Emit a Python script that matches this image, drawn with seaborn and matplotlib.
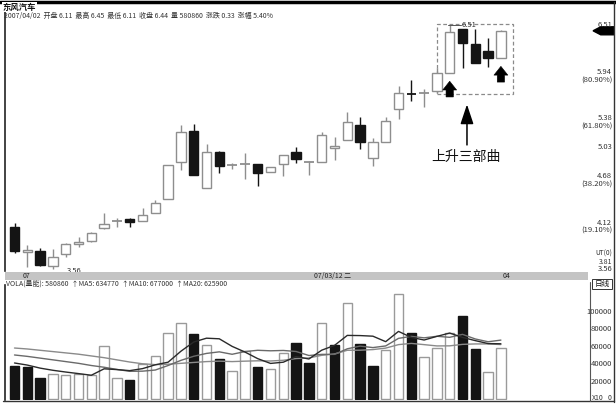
import numpy as np
import pandas as pd
import matplotlib
matplotlib.use("Agg")
import matplotlib.pyplot as plt
import seaborn as sns
from matplotlib.patches import Rectangle, Polygon, FancyArrowPatch
from matplotlib.lines import Line2D

# ---- daily bars (price) ----
opens = [4.07, 3.77, 3.78, 3.60, 3.74, 3.86, 3.90, 4.05, 4.13, 4.16,
         4.14, 4.24, 4.41, 4.85, 5.23, 4.54, 4.97, 4.81, 4.82, 4.83,
         4.73, 4.83, 4.97, 4.85, 4.85, 5.02, 5.12, 5.30, 4.90, 5.10,
         5.49, 5.68, 5.68, 5.71, 5.93, 6.46, 6.28, 6.20, 6.11]
highs = [4.12, 3.85, 3.81, 3.80, 3.87, 3.95, 4.01, 4.24, 4.18, 4.18,
         4.30, 4.39, 4.82, 5.30, 5.31, 5.07, 4.99, 4.84, 4.96, 4.83,
         4.79, 4.94, 5.03, 4.86, 5.22, 5.16, 5.46, 5.40, 5.14, 5.40,
         5.77, 5.84, 5.74, 5.99, 6.51, 6.46, 6.46, 6.35, 6.45]
lows = [3.75, 3.58, 3.60, 3.56, 3.71, 3.83, 3.89, 4.04, 4.07, 4.07,
        4.14, 4.24, 4.41, 4.76, 4.70, 4.54, 4.72, 4.77, 4.65, 4.56,
        4.73, 4.68, 4.84, 4.70, 4.85, 4.88, 5.12, 5.01, 4.81, 5.10,
        5.37, 5.59, 5.52, 5.69, 5.93, 5.99, 6.05, 6.00, 6.11]
closes = [3.78, 3.79, 3.61, 3.71, 3.86, 3.89, 4.00, 4.10, 4.14, 4.13,
          4.21, 4.36, 4.82, 5.22, 4.70, 4.97, 4.81, 4.82, 4.84, 4.72,
          4.79, 4.94, 4.89, 4.86, 5.18, 5.05, 5.34, 5.10, 5.10, 5.35,
          5.69, 5.67, 5.69, 5.93, 6.43, 6.29, 6.05, 6.11, 6.44]

# ---- volume (x10 shares) ----
volumes = [37900, 36800, 24000, 28700, 27600, 28700, 27600, 60900, 24000, 21800,
           40200, 49400, 75900, 87400, 74700, 62000, 46000, 32200, 55200, 36800,
           34500, 52900, 64400, 41400, 87400, 62000, 110300, 63200, 37900, 56300,
           120700, 75900, 48300, 58600, 75400, 95400, 57500, 31000, 58086]
vol_down = [1, 1, 1, 0, 0, 0, 0, 0, 0, 1,
            0, 0, 0, 0, 1, 0, 1, 0, 0, 1,
            0, 0, 1, 1, 0, 1, 0, 1, 1, 0,
            0, 1, 0, 0, 0, 1, 1, 0, 0]
ma5 = [41400, 39000, 35500, 33000, 31000, 29200, 27300, 34700, 33800, 32600,
       34900, 39300, 42300, 54900, 65500, 69900, 69200, 60500, 54000, 46400,
       40900, 42300, 48800, 46000, 56100, 61600, 73100, 72900, 72200, 65900,
       77700, 70800, 67800, 72000, 75800, 70800, 67100, 63700, 63477]
ma10 = [50600, 49000, 47000, 45000, 43000, 41000, 38500, 36500, 34000, 31800,
        32000, 33300, 38500, 44400, 49100, 52400, 54200, 51400, 54500, 56000,
        55400, 55800, 54600, 50000, 51300, 51300, 57700, 60800, 59100, 61000,
        69700, 72000, 70300, 72100, 70900, 74300, 69000, 65800, 67700]
ma20 = [58600, 57500, 56000, 54500, 53000, 51500, 49500, 47500, 45000, 42500,
        40500, 39500, 40000, 41000, 42000, 43000, 43500, 43000, 43500, 43900,
        43700, 44500, 46500, 47200, 50200, 51800, 56000, 56100, 56800, 58500,
        62500, 63900, 62500, 61000, 61100, 62800, 63300, 63300, 62590]

# ---- axis labels ----
price_levels = [6.51, 5.94, 5.38, 5.03, 4.68, 4.12, 3.56]
level_notes = ["", "(80.90%)", "(61.80%)", "", "(38.20%)", "(19.10%)", ""]
vol_ticks = [100000, 80000, 60000, 40000, 20000]
vol_tick_labels = ["100000", "80000", "60000", "40000", "20000"]
date_marks = ["07", "07/03/12 二", "04"]
date_idx = [0.6, 23.4, 38.1]

sns.set_theme(style="white")
plt.rcParams["font.family"] = ["Noto Sans CJK SC", "DejaVu Sans"]
plt.rcParams["axes.unicode_minus"] = False

W, H = 616, 407
fig = plt.figure(figsize=(W / 100, H / 100), dpi=100)
fig.patch.set_facecolor("white")


def fx(px):
    return px / W


def fy(py):
    return 1 - py / H


n = len(opens)
idx = np.arange(n)
o = np.array(opens); c = np.array(closes)
hi = np.array(highs); lo = np.array(lows)

# x mapping: first bar centred at x=14.5 px, 12.8 px per bar
x_left_px, x_right_px = 5, 614
x0 = (x_left_px - 14.5) / 12.8
x1 = (x_right_px - 14.5) / 12.8

# ---- price panel ----
top_px, bot_px = 10, 271
ax = fig.add_axes([fx(x_left_px), fy(bot_px), fx(x_right_px) - fx(x_left_px), (bot_px - top_px) / H])
ppx = 2.95 / 244.0  # price per pixel
ax.set_xlim(x0, x1)
ax.set_ylim(3.56 - (bot_px - 269) * ppx, 3.56 + (269 - top_px) * ppx)
for s in ["top", "right", "bottom"]:
    ax.spines[s].set_visible(False)
ax.spines["left"].set_color("#222")
ax.spines["left"].set_linewidth(1.2)
ax.set_xticks([]); ax.set_yticks([])
ax.set_facecolor("white")

GRAY = "#8e8e8e"
DARK = "#141414"
bw = 0.72
for i in idx:
    down = c[i] < o[i]
    col = DARK if down else GRAY
    ax.vlines(i, lo[i], hi[i], color=col, lw=1.0, zorder=1)
    if abs(c[i] - o[i]) < 0.02:
        ax.hlines((o[i] + c[i]) / 2, i - bw / 2, i + bw / 2, color=col, lw=1.3, zorder=3)
    else:
        ax.bar(i, abs(c[i] - o[i]), bottom=min(o[i], c[i]), width=bw,
               color=DARK if down else "white", edgecolor=col, lw=1.0, zorder=2)

# high / low markers
ih = int(np.argmax(hi)); il = int(np.argmin(lo))
ax.plot([ih - 0.15, ih + 0.9], [hi[ih], hi[ih]], color="#555", lw=0.7)
ax.text(ih + 0.95, hi[ih], f"{hi[ih]:.2f}", fontsize=5.5, color="#333", va="center", ha="left")
ax.plot([il + 0.1, il + 1.0], [lo[il] - 0.02, lo[il] - 0.02], color="#555", lw=0.7)
ax.text(il + 1.05, lo[il] - 0.02, f"{lo[il]:.2f}", fontsize=5.5, color="#333", va="center", ha="left")

# dashed box around the last six bars
b_lo = lo[33:].min() - 0.015
b_hi = hi[33:].max() + 0.01
ax.add_patch(Rectangle((33 - 0.03, b_lo), 38.95 - 33 + 0.03, b_hi - b_lo, fill=False,
                       ls=(0, (3, 2)), ec="#8a8a8a", lw=0.9, zorder=0))

# small up arrows under bars 35 and 39
for k in (34, 38):
    tip = o[k] - 0.10
    ax.add_patch(FancyArrowPatch((k, tip - 0.19), (k, tip),
                                 arrowstyle="simple,head_length=0.6,head_width=0.95,tail_width=0.5",
                                 mutation_scale=10.5, fc="black", ec="black", lw=0.4,
                                 shrinkA=0, shrinkB=0, zorder=4))

# big arrow and caption
ax.add_patch(FancyArrowPatch((35.35, 5.06), (35.35, 5.55),
                             arrowstyle="-|>,head_width=0.4,head_length=1.2",
                             mutation_scale=10, color="black", lw=1.1,
                             shrinkA=0, shrinkB=0, zorder=4))
ax.text(35.25, 5.00, "上升三部曲", fontsize=10, ha="center", va="top", color="#111")

# right price scale
for v, note in zip(price_levels, level_notes):
    ax.text(46.7, v, f"{v:.2f}", fontsize=5.5, ha="right", va="center", color="#333")
    if note:
        ax.text(46.7, v - 8 * ppx, note, fontsize=5.5, ha="right", va="center", color="#333")
ax.text(46.7, 3.56 + 15 * ppx, "UT(0)", fontsize=4.8, ha="right", va="center", color="#333")
ax.text(46.7, 3.56 + 7.5 * ppx, "3.81", fontsize=5, ha="right", va="center", color="#333")

# current price pointer
cp = c[-1]
ax.add_patch(Polygon([[45.2, cp], [45.8, cp + 4 * ppx], [46.85, cp + 4 * ppx],
                      [46.85, cp - 4 * ppx], [45.8, cp - 4 * ppx]], closed=True,
                     fc="black", ec="black", clip_on=False))

# ---- volume panel ----
vtop_px, vbot_px = 285, 400
axv = fig.add_axes([fx(x_left_px), fy(vbot_px), fx(x_right_px) - fx(x_left_px), (vbot_px - vtop_px) / H])
vpp = 100000 / 87.0
axv.set_xlim(x0, x1)
axv.set_ylim(-(vbot_px - 399) * vpp, (399 - vtop_px) * vpp)
for s in ["top", "right", "bottom"]:
    axv.spines[s].set_visible(False)
axv.spines["left"].set_color("#222")
axv.spines["left"].set_linewidth(1.2)
axv.set_xticks([]); axv.set_yticks([])
axv.set_facecolor("white")

vdf = pd.DataFrame({"i": idx, "vol": volumes, "down": vol_down,
                    "MA5": ma5, "MA10": ma10, "MA20": ma20})
for _, r in vdf.iterrows():
    d = r["down"] == 1
    axv.bar(r["i"], r["vol"], width=bw, color=DARK if d else "white",
            edgecolor=DARK if d else "#9a9a9a", lw=1.0, zorder=2)
sns.lineplot(data=vdf, x="i", y="MA20", ax=axv, color="#8a8a8a", lw=1.0, zorder=3)
sns.lineplot(data=vdf, x="i", y="MA10", ax=axv, color="#6a6a6a", lw=1.0, zorder=3)
sns.lineplot(data=vdf, x="i", y="MA5", ax=axv, color="#2a2a2a", lw=1.0, zorder=3)
axv.set_xlabel(""); axv.set_ylabel("")

for v, lab in zip(vol_ticks, vol_tick_labels):
    axv.text(46.7, v, lab, fontsize=5.5, ha="right", va="center", color="#333")

# ---- frame, date band and headers ----
fig.add_artist(Line2D([0, 1], [fy(2), fy(2)], color="black", lw=2.5))
fig.add_artist(Line2D([fx(614), fx(614)], [fy(2), fy(402)], color="#333", lw=1.0))
fig.add_artist(Line2D([fx(3), fx(614)], [fy(401), fy(401)], color="#333", lw=1.0))
fig.add_artist(Line2D([fx(590), fx(590)], [fy(282), fy(401)], color="#555", lw=0.8))
fig.add_artist(Rectangle((fx(5), fy(280)), fx(588) - fx(5), (280 - 272) / H,
                         fc="#c4c4c4", ec="none", transform=fig.transFigure))
for lab, di in zip(date_marks, date_idx):
    xp = 14.5 + di * 12.8
    fig.text(fx(xp), fy(276), lab, fontsize=5, ha="left", va="center", color="#222")
fig.add_artist(Rectangle((fx(592), fy(289)), fx(612) - fx(592), 10 / H,
                         fc="white", ec="#333", lw=0.7, transform=fig.transFigure))
fig.text(fx(602), fy(284), "日线", fontsize=5.5, ha="center", va="center", color="#111")
fig.text(fx(598), fy(398), "X10", fontsize=5, ha="center", va="center", color="#333")
fig.text(fx(612), fy(398), "0", fontsize=5, ha="right", va="center", color="#333")

fig.text(fx(6), fy(284),
         f"VOLA(量能): {volumes[-1] * 10}  ↑MA5: {ma5[-1] * 10}  ↑MA10: {ma10[-1] * 10}  ↑MA20: {ma20[-1] * 10}",
         fontsize=5, ha="left", va="center", color="#333")
fig.text(fx(3), fy(7), "东风汽车", fontsize=6, weight="bold", ha="left", va="center", color="#111",
         bbox=dict(fc="white", ec="none", pad=0.6))
fig.text(fx(4), fy(16),
         f"2007/04/02  开盘 {opens[-1]:.2f}  最高 {highs[-1]:.2f}  最低 {lows[-1]:.2f}  收盘 {closes[-1]:.2f}"
         f"  量 {volumes[-1] * 10}  涨跌 {closes[-1] - closes[-2]:.2f}  涨幅 {(closes[-1] / closes[-2] - 1) * 100:.2f}%",
         fontsize=5, ha="left", va="center", color="#333")

fig.savefig("out.png", dpi=100, facecolor="white")
